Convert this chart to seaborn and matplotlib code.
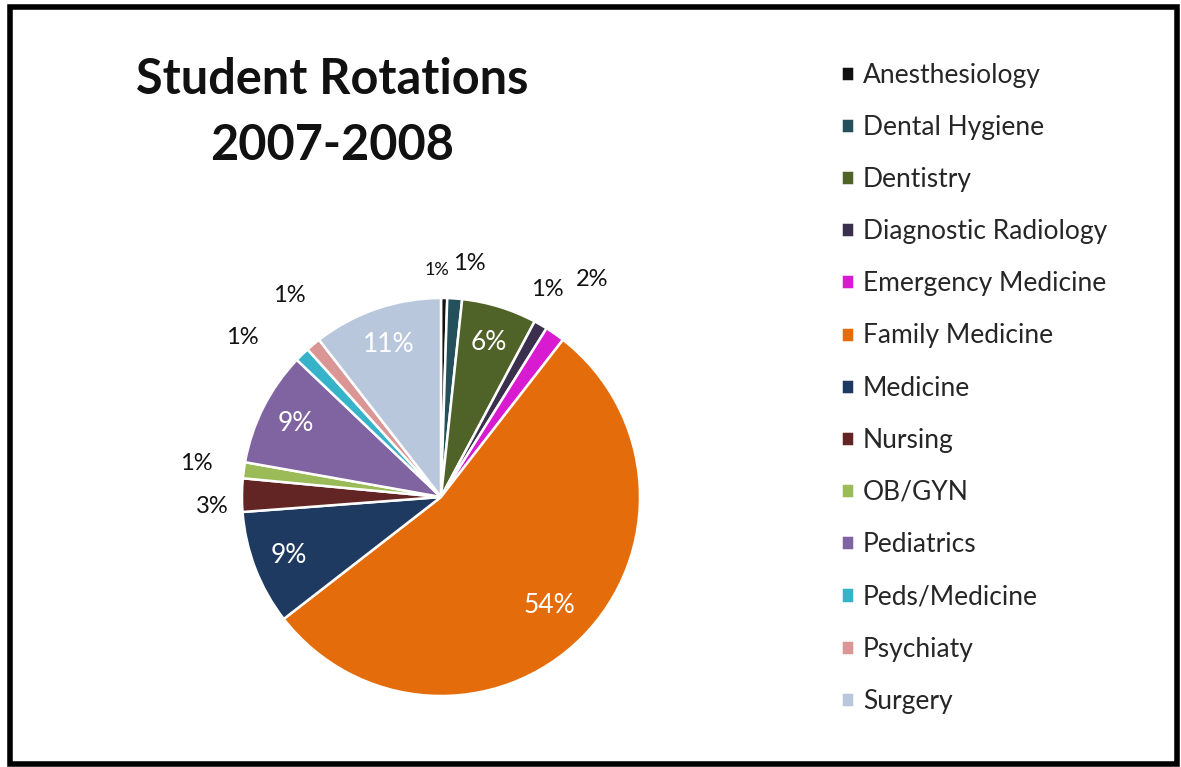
import numpy as np
import seaborn as sns
import matplotlib
matplotlib.use("Agg")
import matplotlib.pyplot as plt
from matplotlib.patches import Rectangle

# chart data
rotations = ["Anesthesiology", "Dental Hygiene", "Dentistry", "Diagnostic Radiology",
             "Emergency Medicine", "Family Medicine", "Medicine", "Nursing", "OB/GYN",
             "Pediatrics", "Peds/Medicine", "Psychiaty", "Surgery"]
shares = [0.5, 1.2, 6.1, 1.1, 1.6, 54.0, 9.3, 2.7, 1.3, 9.3, 1.2, 1.2, 10.5]
pct_text = ["1%", "1%", "6%", "1%", "2%", "54%", "9%", "3%", "1%", "9%", "1%", "1%", "11%"]
colors = ["#111111", "#24505c", "#4f6228", "#3a2f4d", "#d81ad0", "#e46c0a", "#1f3a60",
          "#632523", "#9bbb59", "#8064a2", "#37b3c9", "#d99694", "#b9c7dd"]

# label placement: radius (in pie radii) and small angle nudge (deg, ccw)
lab_r = [1.14, 1.18, 0.81, 1.17, 1.33, 0.77, 0.82, 1.15, 1.24, 0.82, 1.28, 1.27, 0.81]
lab_dang = [2, -3, 0, 3, 0, 0, 0, 3, 0, 0, 7, -3, 0]

sns.set_theme(style="white")
plt.rcParams['font.family'] = ['Lato', 'DejaVu Sans']

fig = plt.figure(figsize=(11.81, 7.67), dpi=100)
ax = fig.add_axes([192.25 / 1181, 21.25 / 767, 497.5 / 1181, 497.5 / 767])

wedges, _ = ax.pie(shares, colors=colors, startangle=90, counterclock=False,
                   wedgeprops=dict(edgecolor="white", linewidth=1.8))
ax.set_xlim(-1.25, 1.25)
ax.set_ylim(-1.25, 1.25)
ax.set_aspect("equal")

for i, w in enumerate(wedges):
    ang = np.deg2rad((w.theta1 + w.theta2) / 2 + lab_dang[i])
    r = lab_r[i]
    inside = r < 1
    if rotations[i] == "Anesthesiology":
        fs = 13
    elif inside:
        fs = 19
    else:
        fs = 17
    ax.text(r * np.cos(ang), r * np.sin(ang), pct_text[i], ha="center", va="center",
            fontsize=fs, color="white" if inside else "#111111")

fig.text(332 / 1181, 1 - 80 / 767, "Student Rotations", ha="center", va="center",
         fontsize=35, fontweight="bold", color="#111111")
fig.text(332 / 1181, 1 - 145 / 767, "2007-2008", ha="center", va="center",
         fontsize=35, fontweight="bold", color="#111111")

fig.legend(wedges, rotations, loc="upper left", bbox_to_anchor=(830 / 1181, 1 - 52 / 767),
           frameon=False, fontsize=19, handlelength=0.5, handleheight=0.5,
           handletextpad=0.35, labelspacing=1.03, borderaxespad=0)

fig.patches.append(Rectangle((10 / 1181, 3 / 767), 1167 / 1181, 757 / 767,
                             transform=fig.transFigure, fill=False,
                             edgecolor="black", linewidth=4))

fig.savefig("out.png", dpi=100)
